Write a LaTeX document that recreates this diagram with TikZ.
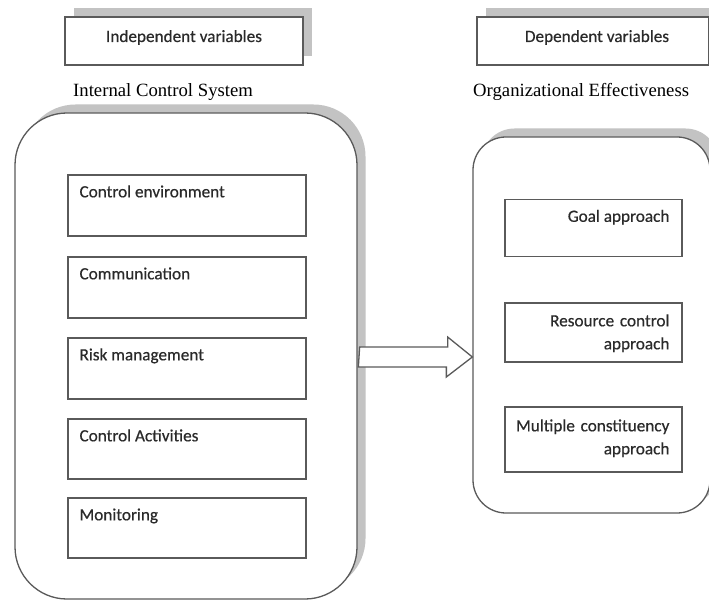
\documentclass[tikz,border=0pt]{standalone}
\usepackage{fontspec}
\usetikzlibrary{shadows,calc}
\newfontfamily\calfont[FakeBold=0.4]{Carlito}
\newfontfamily\serfont{Liberation Serif}
\definecolor{linec}{HTML}{5A5A5A}
\definecolor{shadc}{HTML}{C3C3C3}
\definecolor{txtc}{HTML}{2A2A2A}
\begin{document}
\begin{tikzpicture}[x=1pt,y=-1pt,
  ln/.style={draw=linec, line width=1.3pt},
  box/.style={ln, fill=white, rectangle, inner sep=0pt},
  shad/.style={drop shadow={shadow xshift=8.5pt, shadow yshift=8.5pt, fill=shadc, draw=none, opacity=1}},
  lab/.style={font=\calfont\fontsize{17.2}{23}\selectfont, text=txtc, inner sep=0pt},
  ttl/.style={font=\serfont\fontsize{18.7}{22}\selectfont, text=black, inner sep=0pt}]
\clip (0,0) rectangle (709,601);
\fill[white] (0,0) rectangle (709,601);

% header boxes
\node[box, shad, minimum width=238pt, minimum height=48pt] (iv) at (184,41) {};
\node[lab, anchor=base] (ivt) at (184,42) {Independent variables};
\node[box, shad, minimum width=232pt, minimum height=48pt] (dv) at (593,41) {};
\node[lab, anchor=base] (dvt) at (597,42) {Dependent variables};

% titles
\node[ttl, anchor=base west] (ict) at (73,97) {Internal Control System};
\node[ttl, anchor=base west] (oe) at (473,97) {Organizational Effectiveness};

% big containers
\node[box, shad, rounded corners=52pt, minimum width=342pt, minimum height=486pt] (sys) at (186,356) {};
\node[box, shad, rounded corners=33pt, minimum width=237pt, minimum height=376pt] (rb) at (591.5,325) {};

% left inner boxes
\node[box, minimum width=238pt, minimum height=61pt] (ce) at (187,205.5) {};
\node[lab, anchor=base west] (cet) at ([xshift=12pt,yshift=-23pt]ce.north west) {Control environment};
\node[box, minimum width=238pt, minimum height=61pt] (cm) at (187,287.5) {};
\node[lab, anchor=base west] (cmt) at ([xshift=12pt,yshift=-23pt]cm.north west) {Communication};
\node[box, minimum width=238pt, minimum height=61pt] (rm) at (187,368.5) {};
\node[lab, anchor=base west] (rmt) at ([xshift=12pt,yshift=-23pt]rm.north west) {Risk management};
\node[box, minimum width=238pt, minimum height=60pt] (ca) at (187,449) {};
\node[lab, anchor=base west] (cat) at ([xshift=12pt,yshift=-23pt]ca.north west) {Control Activities};
\node[box, minimum width=238pt, minimum height=60pt] (mo) at (187,528) {};
\node[lab, anchor=base west] (mot) at ([xshift=12pt,yshift=-23pt]mo.north west) {Monitoring};

% right inner boxes
\node[box, minimum width=177pt, minimum height=57pt] (ga) at (593.5,228) {};
\node[lab, anchor=base east] (gat) at ([xshift=-13pt,yshift=-23pt]ga.north east) {Goal approach};
\node[box, minimum width=177pt, minimum height=59pt] (rc) at (593.5,332.5) {};
\node[lab, anchor=base east, text width=170pt, align=right] (rct) at ([xshift=-13pt,yshift=-24pt]rc.north east) {Resource control\\approach};
\node[box, minimum width=177pt, minimum height=65pt] (mc) at (593.5,439.5) {};
\node[lab, anchor=base east, text width=170pt, align=right] (mct) at ([xshift=-13pt,yshift=-25pt]mc.north east) {Multiple constituency\\approach};

% block arrow
\coordinate (at0) at ([xshift=2pt,yshift=-1pt]sys.east);
\coordinate (tip) at (rb.west |- at0);
\draw[ln, fill=white] ([yshift=10pt]at0) -- ++(88,0) -- ++(0,-10) -- (tip) -- ++(-26,20) -- ++(0,-10) -- ++(-88,0) -- cycle;
\end{tikzpicture}
\end{document}
